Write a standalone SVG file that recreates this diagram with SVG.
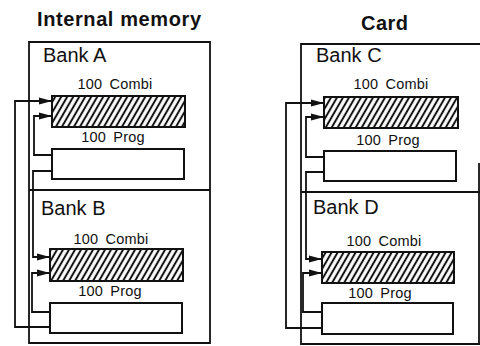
<svg xmlns="http://www.w3.org/2000/svg" width="480" height="346" viewBox="0 0 480 346">
<style>
.frame{fill:none;stroke:#111;stroke-width:1.8}
.box{fill:#fff;stroke:#111;stroke-width:2}
.hatch{fill:url(#hatch);stroke:#111;stroke-width:2}
.conn{fill:none;stroke:#111;stroke-width:1.8;stroke-linejoin:miter}
.arr{marker-end:url(#ah)}
.title{font-family:"Liberation Sans",Arial,sans-serif;font-weight:bold;font-size:20px;fill:#111}
.bank{font-family:"Liberation Sans",Arial,sans-serif;font-size:20px;fill:#111}
.lbl{font-family:"Liberation Sans",Arial,sans-serif;font-size:14.5px;fill:#111;text-anchor:middle;letter-spacing:0.2px;word-spacing:3px}
</style>
<defs>
<pattern id="hatch" patternUnits="userSpaceOnUse" width="5.2" height="10" patternTransform="rotate(30)">
<rect width="5.2" height="10" fill="#fff"/>
<line x1="2.6" y1="0" x2="2.6" y2="10" stroke="#111" stroke-width="2"/>
</pattern>
<marker id="ah" viewBox="0 0 13 8" refX="13" refY="4" markerWidth="13" markerHeight="8" markerUnits="userSpaceOnUse" orient="auto">
<path d="M0,0.5 L13,4 L0,7.5 Z" fill="#111"/>
</marker>
</defs>

<text class="title" x="37" y="26" textLength="164">Internal memory</text>
<text class="title" x="361" y="30" textLength="47">Card</text>

<g id="internal-memory">
<path class="frame" d="M29,42 H210 V343 H29 Z"/>
<path class="frame" d="M29,190 H210"/>
</g>
<g id="card">
<path class="frame" d="M480,44 H301 V344 H480"/>
<path class="frame" d="M479,163 V344"/>
<path class="frame" d="M301,192 H480"/>
</g>

<g id="bank-a">
<text class="bank" x="43" y="62">Bank A</text>
</g>
<g id="combi-a">
<text class="lbl" x="115" y="89">100 Combi</text>
<rect class="hatch" x="52" y="96" width="133" height="31"/>
</g>
<g id="prog-a">
<text class="lbl" x="113" y="142">100 Prog</text>
<rect class="box" x="52" y="149" width="132" height="30"/>
</g>
<g id="bank-b">
<text class="bank" x="41" y="215">Bank B</text>
</g>
<g id="combi-b">
<text class="lbl" x="111" y="244">100 Combi</text>
<rect class="hatch" x="50" y="249" width="133" height="32"/>
</g>
<g id="prog-b">
<text class="lbl" x="110" y="296">100 Prog</text>
<rect class="box" x="50" y="303" width="132" height="30"/>
</g>

<g id="bank-c">
<text class="bank" x="316" y="62">Bank C</text>
</g>
<g id="combi-c">
<text class="lbl" x="391" y="89">100 Combi</text>
<rect class="hatch" x="324" y="97" width="134" height="31"/>
</g>
<g id="prog-c">
<text class="lbl" x="388" y="145">100 Prog</text>
<rect class="box" x="324" y="151" width="132" height="30"/>
</g>
<g id="bank-d">
<text class="bank" x="313" y="214">Bank D</text>
</g>
<g id="combi-d">
<text class="lbl" x="384" y="246">100 Combi</text>
<rect class="hatch" x="322" y="252" width="132" height="31"/>
</g>
<g id="prog-d">
<text class="lbl" x="380" y="298">100 Prog</text>
<rect class="box" x="322" y="303" width="131" height="31"/>
</g>

<g id="connectors">
<path class="conn arr" d="M50,327 H15 V101 H52"/>
<path class="conn arr" d="M52,155 H34 V116 H52"/>
<path class="conn arr" d="M52,171 H33 V257 H50"/>
<path class="conn arr" d="M50,312 H32 V273 H50"/>
<path class="conn arr" d="M322,328 H286 V103 H324"/>
<path class="conn arr" d="M324,157 H306 V117 H324"/>
<path class="conn arr" d="M324,172 H306 V259 H322"/>
<path class="conn arr" d="M322,312 H303 V273 H322"/>
</g>
</svg>
